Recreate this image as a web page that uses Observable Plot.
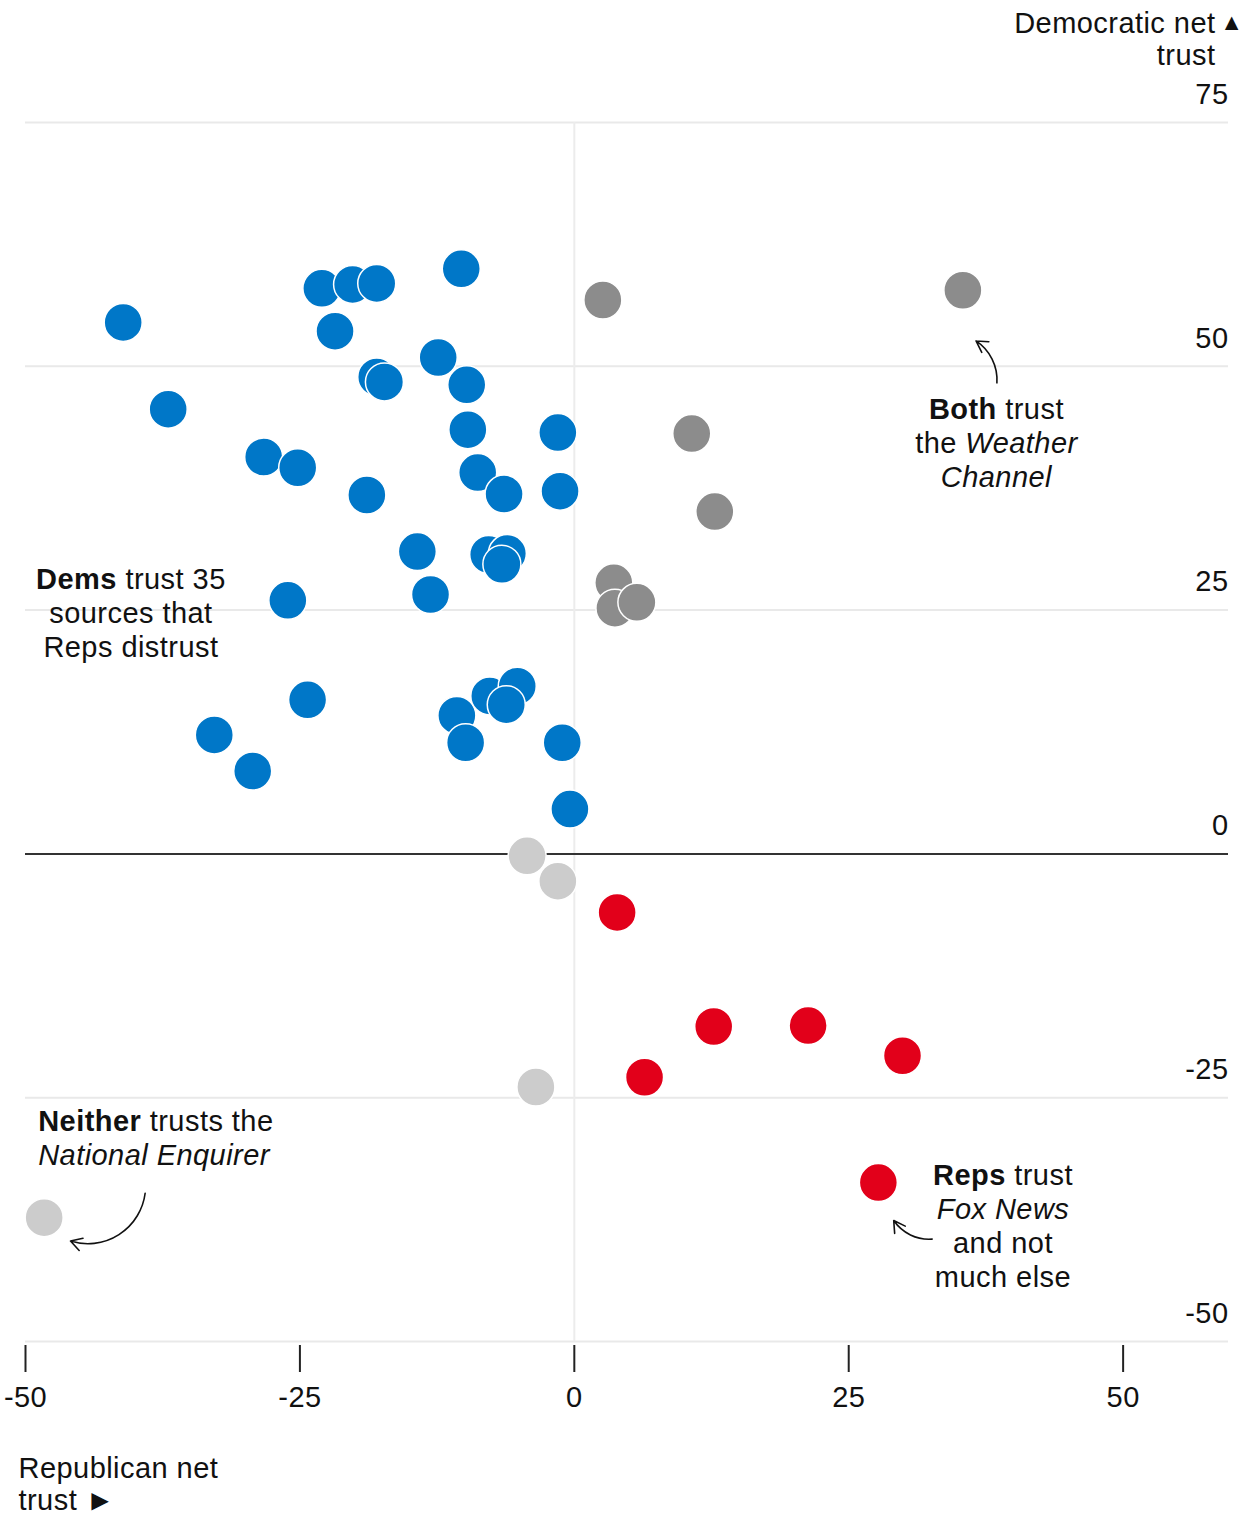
<!DOCTYPE html>
<html><head><meta charset="utf-8">
<script src="https://cdn.jsdelivr.net/npm/d3@7"></script>
<script src="https://cdn.jsdelivr.net/npm/@observablehq/plot@0.6"></script>
<style>
html,body{margin:0;padding:0;background:#fff;}
#chart svg{display:block;}
#chart svg text{letter-spacing:0.45px;}
</style></head><body><div id="chart"></div>
<script>
// ---- data (Republican net trust = x, Democratic net trust = y) ----
const groups = ["dems", "both", "neither", "reps"];
const groupColors = ["#0077c8", "#8c8c8c", "#cccccc", "#e2001a"];

const demsX = [-41.1,-37.0,-23.0,-20.2,-18.0,-10.3,-21.8,-12.4,-18.0,-17.3,-9.8,-9.7,-1.5,-28.3,-25.2,-18.9,-8.8,-6.4,-1.3,-14.3,-7.8,-6.1,-6.6,-26.1,-13.1,-24.3,-32.8,-29.3,-10.7,-9.9,-7.7,-5.2,-6.2,-1.1,-0.4];
const demsY = [54.5,45.6,58.0,58.4,58.5,60.0,53.6,50.9,48.9,48.4,48.1,43.5,43.2,40.7,39.6,36.8,39.1,36.9,37.2,31.0,30.7,30.8,29.7,26.0,26.6,15.8,12.2,8.5,14.2,11.4,16.2,17.2,15.3,11.4,4.6];
const bothX = [2.6,35.4,10.7,12.8,3.6,3.7,5.7];
const bothY = [56.8,57.8,43.1,35.1,27.8,25.2,25.8];
const neitherX = [-4.3,-1.5,-3.5,-48.3];
const neitherY = [-0.2,-2.8,-23.9,-37.3];
const repsX = [3.9,12.7,21.3,29.9,6.4,27.7];
const repsY = [-6.0,-17.7,-17.6,-20.7,-22.9,-33.7];

const xTicks = [-50, -25, 0, 25, 50];
const yTicks = [75, 50, 25, 0, -25, -50];
const yTitle = "Democratic net\ntrust";
const xTitle = "Republican net\ntrust ►";

// annotation anchors (data units) and arrows
const noteX = [-40.35, 38.5, -48.8, 39.1];
const noteY = [28.1, 45.6, -27.4, -33.0];
const noteAnchor = ["middle", "middle", "start", "middle"];
const noteLines = [
  [[{t:"Dems", b:1},{t:" trust 35"}],[{t:"sources that"}],[{t:"Reps distrust"}]],
  [[{t:"Both", b:1},{t:" trust"}],[{t:"the "},{t:"Weather", i:1}],[{t:"Channel", i:1}]],
  [[{t:"Neither", b:1},{t:" trusts the"}],[{t:"National Enquirer", i:1}]],
  [[{t:"Reps", b:1},{t:" trust"}],[{t:"Fox News", i:1}],[{t:"and not"}],[{t:"much else"}]]
];
const arrowX1 = [38.5, -39.1, 32.6];
const arrowY1 = [48.3, -34.8, -39.5];
const arrowX2 = [36.6, -45.9, 29.1];
const arrowY2 = [52.6, -39.7, -37.6];
const arrowBend = [-30, 50, 30];

// ---- build table ----
const points = [];
[[demsX, demsY], [bothX, bothY], [neitherX, neitherY], [repsX, repsY]].forEach(([xs, ys], gi) => {
  xs.forEach((x, i) => points.push({group: groups[gi], x, y: ys[i]}));
});

const FONT = "'Liberation Sans', Arial, Helvetica, sans-serif";
const FS = 29;

const plot = Plot.plot({
  width: 1258,
  height: 1515,
  marginTop: 122,
  marginBottom: 174,
  marginLeft: 25,
  marginRight: 30,
  style: {fontFamily: FONT, fontSize: FS + "px", color: "#111", background: "#fff"},
  x: {domain: [-50, 59.6]},
  y: {domain: [-50, 75], axis: null},
  color: {domain: groups, range: groupColors},
  marks: [
    Plot.ruleY(yTicks.filter(d => d !== 0), {stroke: "#e9e9e9", strokeWidth: 2}),
    Plot.ruleX([0], {stroke: "#ececec", strokeWidth: 2}),
    Plot.ruleY([0], {stroke: "#333", strokeWidth: 2}),
    Plot.axisX({ticks: xTicks, tickSize: 27, tickPadding: 14, dy: 4, tickFormat: d => String(d),
                fontSize: FS, stroke: "#222", strokeWidth: 2, fill: "#111", label: null}),
    Plot.text(yTicks, {y: d => d, text: d => String(d), frameAnchor: "right", textAnchor: "end",
                dy: -28, fontSize: FS, fill: "#111"}),
    Plot.text([yTitle], {text: d => d, frameAnchor: "top-right", textAnchor: "end", lineAnchor: "middle",
                dx: -13, dy: -84, lineHeight: 1.1, fontSize: FS, fill: "#111"}),
    Plot.text(["▲"], {text: d => d, frameAnchor: "top-right", textAnchor: "end", lineAnchor: "middle",
                dx: 15, dy: -100, fontSize: 23, fill: "#111"}),
    Plot.text([xTitle], {text: d => d, frameAnchor: "bottom-left", textAnchor: "start", lineAnchor: "middle",
                dx: -7, dy: 142, lineHeight: 1.1, fontSize: FS, fill: "#111"}),
    Plot.dot(points, {x: "x", y: "y", r: 19, fill: "group", stroke: "white", strokeWidth: 1.5}),
    ...arrowX1.map((_, i) => Plot.arrow([i], {
      x1: () => arrowX1[i], y1: () => arrowY1[i], x2: () => arrowX2[i], y2: () => arrowY2[i],
      bend: arrowBend[i], headLength: 12, stroke: "#111", strokeWidth: 1.6
    }))
  ]
});

// annotations with mixed bold / italic, positioned through the plot's scales
const sx = plot.scale("x"), sy = plot.scale("y");
const svg = d3.select(plot);
noteLines.forEach((lines, k) => {
  const t = svg.append("text")
    .attr("font-family", FONT).attr("font-size", FS).attr("fill", "#111")
    .attr("text-anchor", noteAnchor[k]).style("white-space", "pre");
  const px = sx.apply(noteX[k]), py = sy.apply(noteY[k]);
  lines.forEach((segs, li) => {
    segs.forEach((s, j) => {
      const ts = t.append("tspan").text(s.t);
      if (j === 0) ts.attr("x", px).attr("y", py + li * 34 + 10);
      if (s.b) ts.attr("font-weight", "bold");
      if (s.i) ts.attr("font-style", "italic");
    });
  });
});

document.getElementById("chart").appendChild(plot);
</script>
</body></html>
